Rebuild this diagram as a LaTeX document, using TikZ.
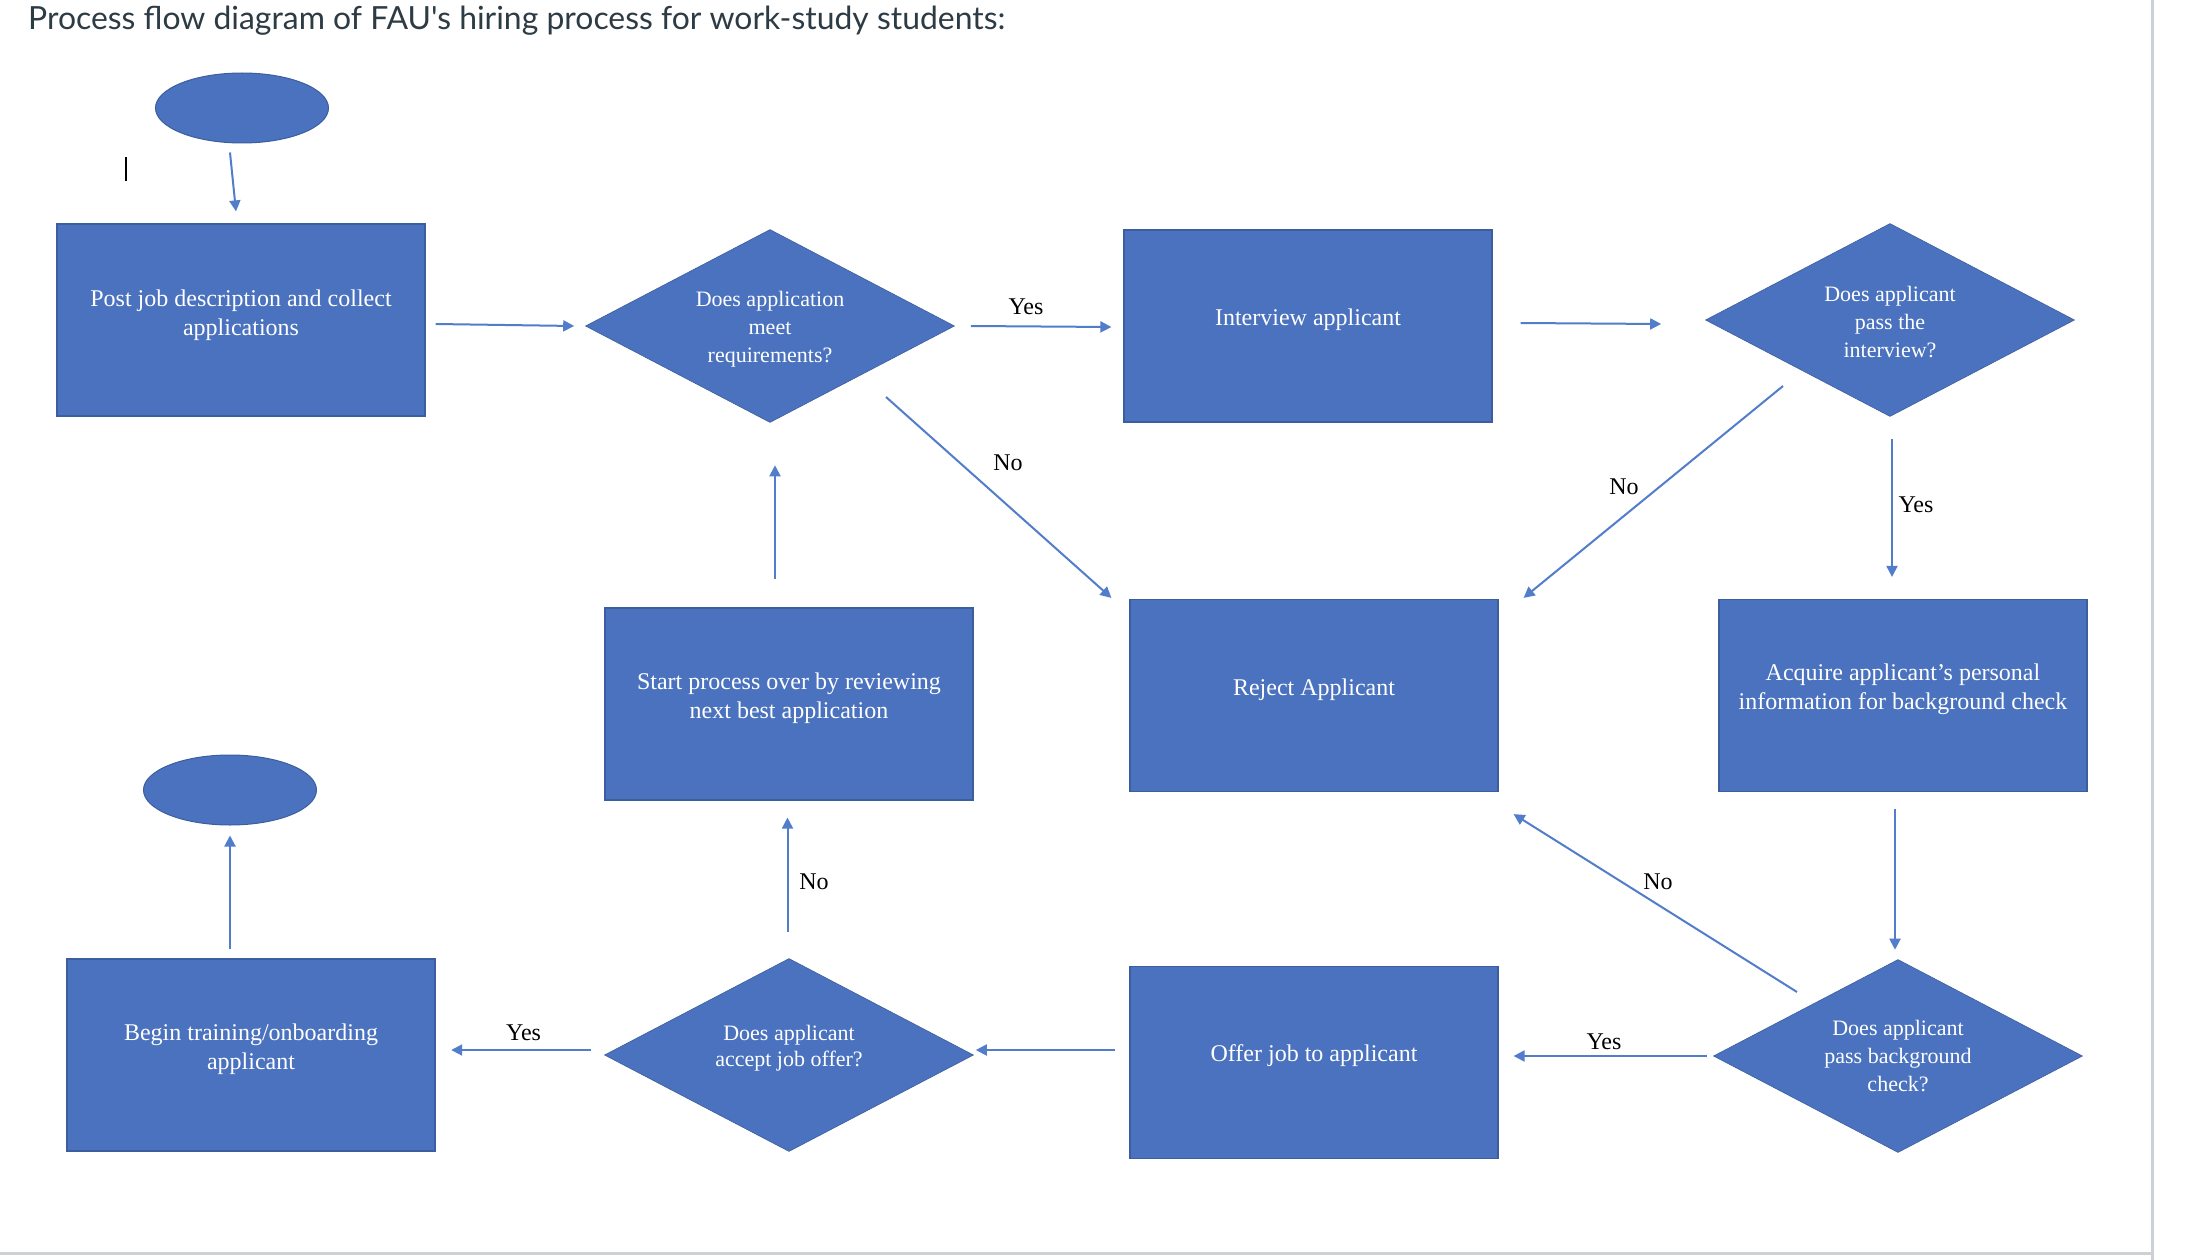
\documentclass[tikz,border=0pt]{standalone}
\usepackage{fontspec}
\setmainfont{Liberation Serif}
\newfontfamily\latofont[Ligatures=TeXOff]{Lato}
\usetikzlibrary{shapes.geometric,arrows.meta,calc}
\definecolor{shapefill}{RGB}{74,114,190}
\definecolor{shapeedge}{RGB}{60,94,158}
\definecolor{conn}{RGB}{82,125,202}
\definecolor{titlecol}{RGB}{45,59,69}
\definecolor{framecol}{RGB}{205,208,212}
\tikzset{
  procbox/.style={rectangle, fill=shapefill, draw=shapeedge, line width=1.2pt,
    minimum width=368pt, minimum height=192pt, inner sep=0pt},
  decision/.style={diamond, fill=shapefill, draw=shapeedge, line width=0.6pt,
    minimum width=369pt, minimum height=193pt, inner sep=0pt},
  terminal/.style={ellipse, fill=shapefill, draw=shapeedge, line width=1pt,
    minimum width=173pt, minimum height=70pt, inner sep=0pt},
  boxtxt/.style={text=white, align=center, inner sep=0pt, font=\fontsize{24}{29}\selectfont},
  dectxt/.style={text=white, align=center, inner sep=0pt, font=\fontsize{22}{28}\selectfont},
  flow/.style={draw=conn, line width=2pt, -{Triangle[length=11pt,width=11pt]}},
  edgelbl/.style={text=black, inner sep=0pt, font=\fontsize{24}{29}\selectfont},
}
\begin{document}
\begin{tikzpicture}[x=1pt,y=-1pt]
\useasboundingbox (0,0) rectangle (2201,1260);
\fill[white] (0,0) rectangle (2201,1260);
% page frame lines
\draw[framecol, line width=3pt] (2152,0) -- (2152,1260);
\draw[framecol, line width=3pt] (0,1253) -- (2152,1253);

% title
\node[anchor=base west, inner sep=0pt, text=titlecol,
  font=\latofont\fontsize{31.9}{36}\selectfont] (title) at (28,29.5)
  {Process flow diagram of FAU's hiring process for work-study students:};

% text cursor
\coordinate (curA) at (126,157);
\coordinate (curB) at (126,181);
\draw[black, line width=2pt] (curA) -- (curB);

% shapes
\node[terminal] (e1) at (242,108) {};
\node[procbox, label={[boxtxt,yshift=5pt]center:{Post job description and collect\\applications}}] (b1) at (241,320) {};
\node[decision, label={[dectxt,yshift=-3pt]center:{Does application\\meet\\requirements?}}] (d1) at (770,326) {};
\node[procbox, label={[boxtxt,yshift=6pt]center:{Interview applicant}}] (int) at (1308,326) {};
\node[decision, label={[dectxt,yshift=-2pt]center:{Does applicant\\pass the\\interview?}}] (d2) at (1890,320) {};
\node[procbox, label={[boxtxt,yshift=6pt]center:{Reject Applicant}}] (rej) at (1314,695.5) {};
\node[procbox, label={[boxtxt,yshift=6pt]center:{Acquire applicant's personal\\information for background check}}] (acq) at (1903,695.5) {};
\node[procbox, label={[boxtxt,yshift=6pt]center:{Start process over by reviewing\\next best application}}] (start) at (789,704) {};
\node[decision, label={[dectxt]center:{Does applicant\\pass background\\check?}}] (d3) at (1898,1056) {};
\node[procbox, label={[boxtxt,yshift=7pt]center:{Offer job to applicant}}] (offer) at (1314,1062.5) {};
\node[decision, label={[dectxt,yshift=7pt,font=\fontsize{22}{26}\selectfont]center:{Does applicant\\accept job offer?}}] (d4) at (789,1055) {};
\node[procbox, label={[boxtxt,yshift=6pt]center:{Begin training/onboarding\\applicant}}] (begin) at (251,1055) {};
\node[terminal] (e2) at (230,790) {};

% connectors
\draw[flow] ($(e1.south)+(-12,9)$) -- ($(b1.north)+(-5,-12)$);
\draw[flow] ($(b1.east)+(10,4)$) -- ($(d1.west)+(-11,0)$);
\draw[flow] ($(d1.east)+(16,0)$) -- ($(int.west)+(-12,1)$);
\draw[flow] ($(int.east)+(28,-3)$) -- ($(d2.west)+(-44,4)$);
\draw[flow] ($(d2.south)+(2,22)$) -- ($(acq.north)+(-11,-22)$);
\draw[flow] ($(d2.center)+(-107,66)$) -- ($(rej.north east)+(25,-1)$);
\draw[flow] ($(d1.center)+(116,71)$) -- ($(rej.north west)+(-18,-1)$);
\draw[flow] ($(acq.south)+(-8,16.5)$) -- ($(d3.north)+(-3,-9.5)$);
\draw[flow] ($(d3.center)+(-101,-64)$) -- ($(rej.south east)+(15,22)$);
\draw[flow] ($(d3.west)+(-6.5,0)$) -- ($(offer.east)+(15,-6.5)$);
\draw[flow] ($(offer.west)+(-14,-12.5)$) -- ($(d4.east)+(2,-5)$);
\draw[flow] ($(d4.west)+(-13.5,-5)$) -- ($(begin.east)+(15.6,-5)$);
\draw[flow] ($(d4.north)+(-1.5,-26.5)$) -- ($(start.south)+(-1.5,17)$);
\draw[flow] ($(start.north)+(-14,-28)$) -- ($(d1.south)+(5,42.5)$);
\draw[flow] ($(begin.north)+(-21,-9)$) -- ($(e2.south)+(0,10)$);

% connector labels
\node[edgelbl] (l1) at (1026,307) {Yes};
\node[edgelbl] (l2) at (1008,463) {No};
\node[edgelbl] (l3) at (1624,487) {No};
\node[edgelbl] (l4) at (1916,505) {Yes};
\node[edgelbl] (l5) at (1658,882) {No};
\node[edgelbl] (l6) at (1604,1042) {Yes};
\node[edgelbl] (l7) at (523.6,1033) {Yes};
\node[edgelbl] (l8) at (814,882) {No};
\end{tikzpicture}
\end{document}
